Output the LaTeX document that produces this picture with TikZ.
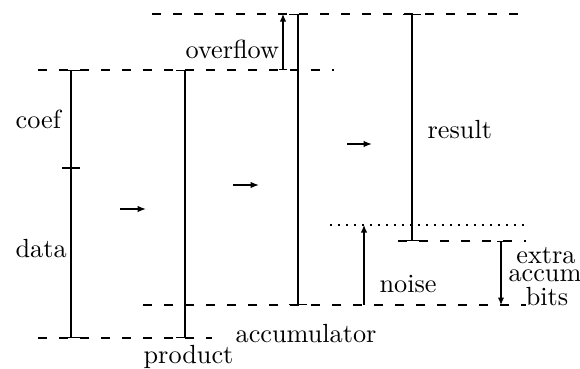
\documentclass[tikz,border=0pt]{standalone}
\usetikzlibrary{arrows.meta}
\begin{document}
\begin{tikzpicture}[x=0.4pt,y=-0.4pt,line width=0.5pt,
  every node/.style={inner sep=0pt,font=\fontsize{10.5}{12}\selectfont},
  lbl/.style={anchor=base west},
  lblc/.style={anchor=base},
  level/.style={dash pattern=on 3.6pt off 4.8pt},
  noisefloor/.style={dash pattern=on 0.8pt off 2.4pt},
  field/.style={{Bar[width=7pt]}-{Bar[width=7pt]}},
  tip/.style={-{Latex[length=3pt,width=2.6pt]}},
  gap/.style={{Bar[width=3pt]}-{Latex[length=3pt,width=2.6pt]}},
  stepshift/.style={-{Latex[length=3.4pt,width=2.6pt]}}]
\useasboundingbox (0,0) rectangle (580,368);

% reference levels
\coordinate (L1a) at (152,14);  \coordinate (L1b) at (524,14);
\coordinate (L2a) at (38,70);   \coordinate (L2b) at (334,70);
\coordinate (L3a) at (143,305); \coordinate (L3b) at (526,305);
\coordinate (L4a) at (38,338);  \coordinate (L4b) at (212,338);
\coordinate (L5a) at (330,225); \coordinate (L5b) at (527,225);
\coordinate (L6a) at (398,241); \coordinate (L6b) at (526,241);
\draw[level] (L1a) -- (L1b);
\draw[level] (L2a) -- (L2b);
\draw[level] (L3a) -- (L3b);
\draw[level] (L4a) -- (L4b);
\draw[level] (L6a) -- (L6b);
\draw[noisefloor] (L5a) -- (L5b);

% word widths
\coordinate (cT) at (71,70);   \coordinate (cM) at (71,168); \coordinate (cB) at (71,338);
\coordinate (pT) at (185,70);  \coordinate (pB) at (185,338);
\coordinate (aT) at (298,14);  \coordinate (aB) at (298,305);
\coordinate (rT) at (412,14);  \coordinate (rB) at (412,241);
\draw[field] (cT) -- (cB);
\draw ([xshift=-3.5pt]cM) -- ([xshift=3.5pt]cM);
\draw[field] (pT) -- (pB);
\draw[field] (aT) -- (aB);
\draw[field] (rT) -- (rB);

% overflow, noise and extra bits
\coordinate (oB) at (283,70);  \coordinate (oT) at (283,14);
\coordinate (nB) at (364,305); \coordinate (nT) at (364,225);
\coordinate (eT) at (501,241); \coordinate (eB) at (501,305);
\draw[gap] (oB) -- (oT);
\draw[tip] (nB) -- (nT);
\draw[gap] (eT) -- (eB);

% steps
\coordinate (s1a) at (120,209); \coordinate (s1b) at (146,209);
\coordinate (s2a) at (233,185); \coordinate (s2b) at (259,185);
\coordinate (s3a) at (347,144); \coordinate (s3b) at (372,144);
\draw[stepshift] (s1a) -- (s1b);
\draw[stepshift] (s2a) -- (s2b);
\draw[stepshift] (s3a) -- (s3b);

% labels
\node[lbl] (tcoef) at (15,128) {coef};
\node[lbl] (tdata) at (15,257) {data};
\node[lbl] (tprod) at (143,363) {product};
\node[lbl] (tacc) at (235,342) {accumulator};
\node[lbl] (tover) at (185,58) {overflow};
\node[lbl] (tres) at (427,138) {result};
\node[lbl] (tnoise) at (379,292) {noise};
\node[lblc] (textra) at (546,263) {extra};
\node[lblc] (taccum) at (545,281) {accum};
\node[lblc] (tbits) at (547,305) {bits};
\end{tikzpicture}
\end{document}
